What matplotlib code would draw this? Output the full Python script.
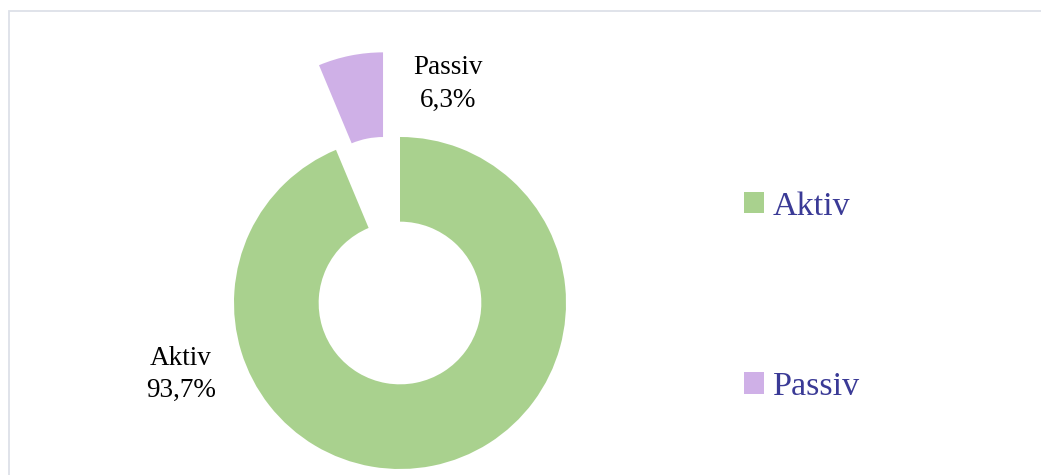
import matplotlib
matplotlib.use("Agg")
import matplotlib.pyplot as plt
from matplotlib.patches import Rectangle

categories = ["Aktiv", "Passiv"]
values = [93.7, 6.3]
value_labels = ["93,7%", "6,3%"]
colors = ["#a9d18e", "#cfb0e7"]

plt.rcParams['font.family'] = ['Liberation Serif', 'DejaVu Serif']

W, H = 1041, 475
fig = plt.figure(figsize=(W / 100, H / 100), dpi=100)

# border
fig.patches.append(Rectangle((9 / W, -0.1), 1.2, 1 - 11 / H + 0.1, transform=fig.transFigure,
                             fill=False, edgecolor="#dde1e8", linewidth=1.3))

R = 166.0
cx, cy = 400, H - 303
half = 320
ax = fig.add_axes([(cx - half) / W, (cy - half) / H, 2 * half / W, 2 * half / H])

wedges, _ = ax.pie(values, colors=colors, startangle=90, counterclock=False,
                   explode=[0, 0.52], radius=1.0,
                   wedgeprops=dict(width=0.51, edgecolor="none"))
ax.set_xlim(-half / R, half / R)
ax.set_ylim(-half / R, half / R)
ax.set_aspect("equal")
ax.axis("off")

label_pos = [(-1.32, -0.43), (0.29, 1.32)]
for cat, vl, (x, y) in zip(categories, value_labels, label_pos):
    ax.text(x, y, f"{cat}\n{vl}", ha="center", va="center", fontsize=19.5,
            color="black", linespacing=1.38)

leg = fig.legend(wedges, categories, loc="upper left", bbox_to_anchor=(727 / W, 1 - 174 / H),
                 frameon=False, fontsize=24.5, handlelength=0.6, handleheight=0.6,
                 handletextpad=0.25, labelspacing=4.4, borderpad=0)
for t in leg.get_texts():
    t.set_color("#3a3a96")

fig.savefig("out.png", dpi=100)
